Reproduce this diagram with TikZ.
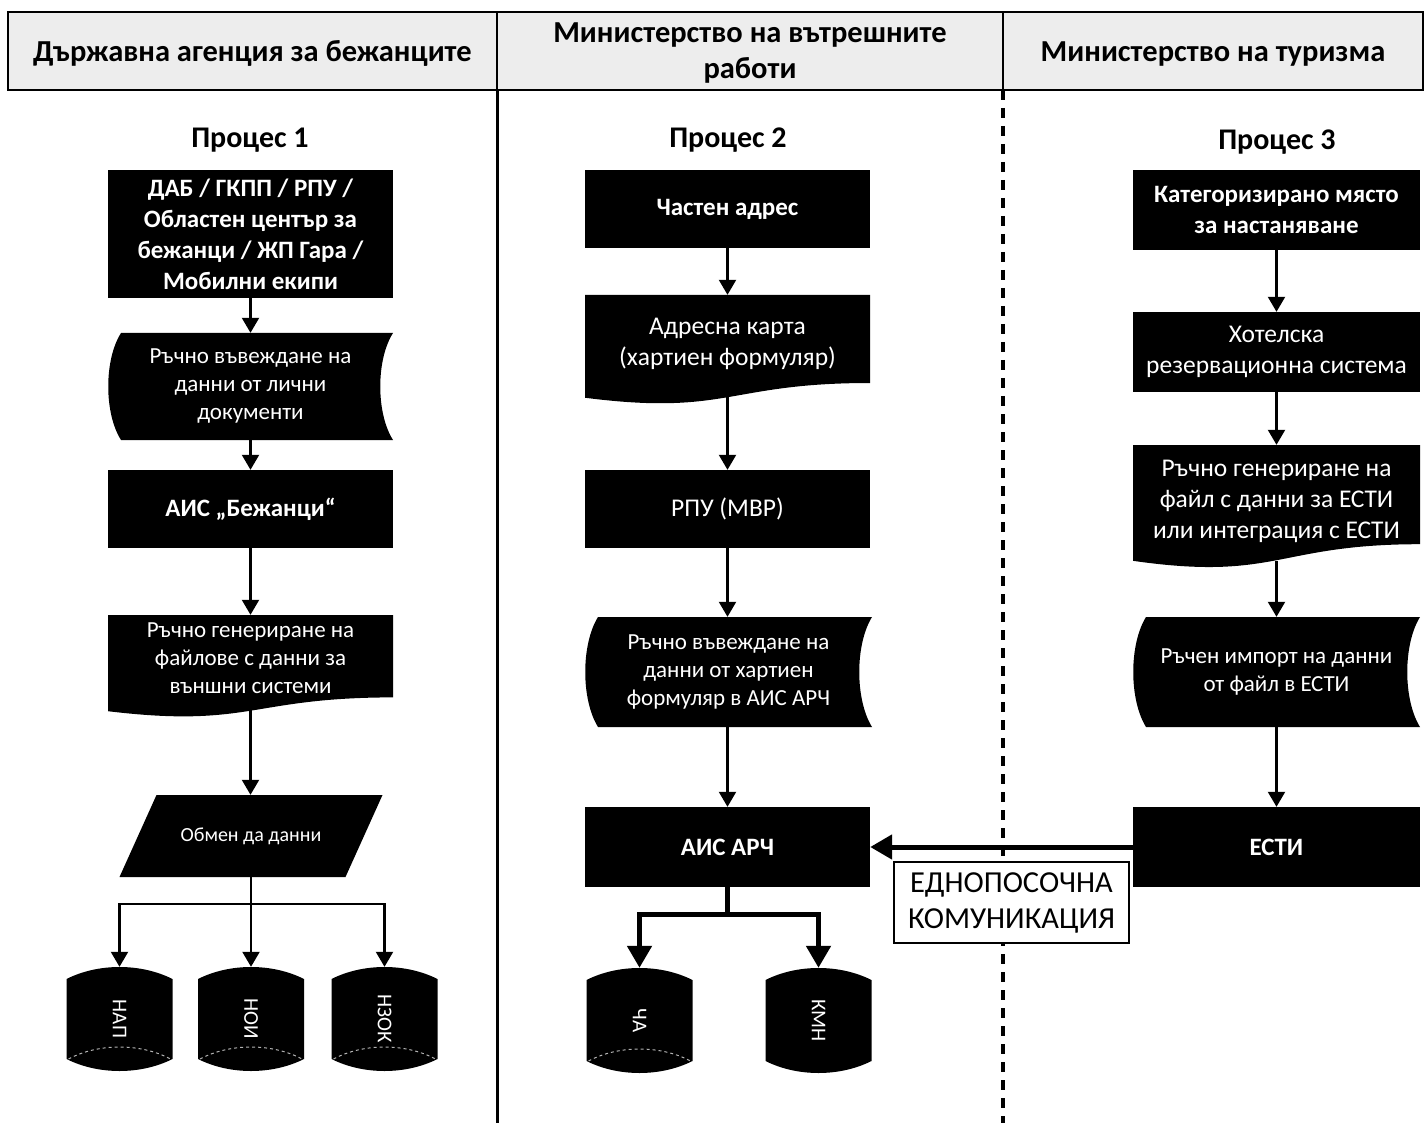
\documentclass[tikz,border=0pt]{standalone}
\usepackage{fontspec}
\usepackage{graphicx}
\setmainfont{Carlito}
\usetikzlibrary{arrows.meta,calc}

\newcommand{\headfont}{\fontsize{30.5}{36}\selectfont\bfseries}
\newcommand{\procfont}{\fontsize{30}{34}\selectfont\bfseries}
\newcommand{\bodyfont}{\fontsize{23}{28}\selectfont}
\newcommand{\widefont}{\fontsize{25.5}{31}\selectfont}
\newcommand{\boldfont}{\fontsize{25}{31}\selectfont\bfseries}
\newcommand{\notefont}{\fontsize{30.5}{36}\selectfont}

\tikzset{
    head/.style = {draw, line width=2pt, fill=black!7},
    headtext/.style = {font=\headfont, align=center},
    proc/.style = {font=\procfont},
    blk/.style = {minimum width=285pt, inner sep=0pt, text=white,
        align=center, font=\bodyfont},
    procbox/.style = {blk, fill=black, minimum height=78pt},
    docbox/.style = {blk, execute at end node={\rule[-16pt]{0pt}{0pt}},
        path picture={\fill [black] let \p1=(path picture bounding box.north west),
            \p2=(path picture bounding box.south east) in
            (\x1,\y1) -- (\x2,\y1) -- (\x2,{\y1+0.80*(\y2-\y1)})
            .. controls ({(\x1+\x2)/2},{\y1+0.80*(\y2-\y1)})
            and ({(\x1+\x2)/2},{\y1+1.10*(\y2-\y1)}) .. (\x1,{\y1+0.934*(\y2-\y1)})
            -- cycle;}},
    manbox/.style = {blk,
        path picture={\fill [black] let \p1=(path picture bounding box.north west),
            \p2=(path picture bounding box.south east) in
            ({\x1+13pt},\y1) -- (\x2,\y1)
            .. controls ({\x2-17pt},{0.75*\y1+0.25*\y2}) and ({\x2-17pt},{0.25*\y1+0.75*\y2}) .. (\x2,\y2)
            -- ({\x1+13pt},\y2)
            .. controls ({\x1-4pt},{0.25*\y1+0.75*\y2}) and ({\x1-4pt},{0.75*\y1+0.25*\y2}) .. cycle;}},
    iobox/.style = {blk, minimum width=263pt, minimum height=82pt,
        font=\fontsize{20}{24}\selectfont,
        path picture={\fill [black] let \p1=(path picture bounding box.north west),
            \p2=(path picture bounding box.south east) in
            ({\x1+37pt},\y1) -- (\x2,\y1) -- ({\x2-37pt},\y2) -- (\x1,\y2) -- cycle;}},
    store/.style = {inner sep=0pt, text=white, minimum width=106pt,
        minimum height=104pt, font=\fontsize{21}{24}\selectfont,
        path picture={\fill [black] let \p1=(path picture bounding box.north west),
            \p2=(path picture bounding box.south east) in
            (\x1,{\y1-12pt})
            .. controls ({\x1+0.3*(\x2-\x1)},{\y1+4pt}) and ({\x2-0.3*(\x2-\x1)},{\y1+4pt}) .. (\x2,{\y1-12pt})
            -- (\x2,{\y2+12pt})
            .. controls ({\x2-0.3*(\x2-\x1)},{\y2-4pt}) and ({\x1+0.3*(\x2-\x1)},{\y2-4pt}) .. (\x1,{\y2+12pt})
            -- cycle;
            \draw [#1, dashed, line width=1pt] let \p1=(path picture bounding box.north west),
            \p2=(path picture bounding box.south east) in
            ({\x1+2pt},{\y2+12pt})
            .. controls ({\x1+0.3*(\x2-\x1)},{\y2+28pt}) and ({\x2-0.3*(\x2-\x1)},{\y2+28pt}) .. ({\x2-2pt},{\y2+12pt});}},
    store/.default = gray!60,
    flow/.style = {line width=2.2pt, -{Triangle[length=15pt, width=17pt]}},
    bigline/.style = {line width=5pt},
    bigflow/.style = {bigline, -{Triangle[length=22pt, width=24pt]}},
    note/.style = {draw, line width=1.3pt, fill=white, minimum width=235pt,
        minimum height=81pt, inner sep=0pt, align=center, font=\notefont}
}

\begin{document}
\begin{tikzpicture}[x=1pt, y=-1pt]
    \useasboundingbox (0,0) rectangle (1425,1123);

    % header
    \draw [head] (8,12) rectangle (497,90)
        node [pos=0.5, headtext, yshift=-2pt] (h1) {Държавна агенция за бежанците};
    \draw [head] (497,12) rectangle (1003,90)
        node [pos=0.5, headtext, yshift=-2pt] (h2) {Министерство на вътрешните\\работи};
    \draw [head] (1003,12) rectangle (1423,90)
        node [pos=0.5, headtext, yshift=-3pt] (h3) {Министерство на туризма};

    % lanes
    \draw [line width=3pt] (497,90) -- (497,1123);
    \draw [line width=4pt, dash pattern=on 10pt off 8pt] (1003,90) -- (1003,1123);

    % Process 1
    \node [proc] (p1) at (250,140) {Процес 1};
    \node [procbox, minimum height=128pt, font=\boldfont] (dab) at (250.5,234)
        {ДАБ / ГКПП / РПУ /\\Областен център за\\бежанци / ЖП Гара /\\Мобилни екипи};
    \node [manbox, minimum height=107pt] (man1) at (250.5,386.5)
        {Ръчно въвеждане на\\данни от лични\\документи};
    \node [procbox, font=\boldfont] (aisb) at (250.5,509) {АИС „Бежанци“};
    \node [docbox, minimum height=103pt] (gen1) at (250.5,666.5)
        {Ръчно генериране на\\файлове с данни за\\външни системи};
    \node [iobox] (xchg) at (251,836) {Обмен да данни};
    \node [store] (nap) at (119.5,1019) {\rotatebox{-90}{НАП}};
    \node [store] (noi) at (251,1019) {\rotatebox{-90}{НОИ}};
    \node [store] (nzok) at (384.5,1019) {\rotatebox{-90}{НЗОК}};

    % Process 2
    \node [proc] (p2) at (728,140) {Процес 2};
    \node [procbox, font=\boldfont] (addr) at (727.5,209) {Частен адрес};
    \node [docbox, minimum height=110pt, font=\widefont] (card) at (727.5,350)
        {Адресна карта\\(хартиен формуляр)};
    \node [procbox, font=\widefont] (rpu) at (727.5,509) {РПУ (МВР)};
    \node [manbox, minimum height=110pt, minimum width=287pt] (man2) at (728.5,672)
        {Ръчно въвеждане на\\данни от хартиен\\формуляр в АИС АРЧ};
    \node [procbox, minimum height=80pt, font=\boldfont] (arc) at (727.5,847) {АИС АРЧ};
    \node [store, minimum height=105pt] (cha) at (639.5,1020.5) {\rotatebox{-90}{ЧА}};
    \node [store=draw=none, minimum height=105pt] (kmn) at (818.5,1020.5) {\rotatebox{-90}{КМН}};

    % Process 3
    \node [proc] (p3) at (1277,142) {Процес 3};
    \node [procbox, minimum width=287pt, minimum height=80pt, font=\boldfont] (cat) at (1276.5,210)
        {Категоризирано място\\за настаняване};
    \node [procbox, minimum width=287pt, minimum height=80pt, font=\widefont] (hotel) at (1276.5,352)
        {Хотелска\\резервационна система};
    \node [docbox, minimum width=287pt, minimum height=124pt, font=\widefont] (gen3) at (1276.5,507)
        {Ръчно генериране на\\файл с данни за ЕСТИ\\или интеграция с ЕСТИ};
    \node [manbox, minimum width=287pt, minimum height=110pt] (man3) at (1276.5,672)
        {Ръчен импорт на данни\\от файл в ЕСТИ};
    \node [procbox, minimum width=287pt, minimum height=80pt, font=\boldfont] (esti) at (1276.5,847) {ЕСТИ};

    % arrows
    \draw [flow] (dab) -- (man1);
    \draw [flow] (man1) -- (aisb);
    \draw [flow] (aisb) -- (gen1);
    \draw [flow, shorten <=-8pt] (gen1.south) -- (xchg.north -| gen1.south);
    \coordinate (fork1) at ([yshift=-27pt]xchg.south);
    \draw [line width=2.2pt] (xchg.south) -- (fork1);
    \draw [flow] (fork1) -| (nap);
    \draw [flow] (fork1) -- (noi);
    \draw [flow] (fork1) -| (nzok);

    \draw [flow] (addr) -- (card);
    \draw [flow, shorten <=-8pt] (card.south) -- (rpu);
    \draw [flow] (rpu) -- (man2.north -| rpu.south);
    \draw [flow] (man2.south -| arc.north) -- (arc);
    \coordinate (fork2) at ([yshift=-27pt]arc.south);
    \draw [bigline] (arc) -- (fork2);
    \draw [bigflow] (fork2) -| (cha);
    \draw [bigflow] (fork2) -| (kmn);

    \draw [flow] (cat) -- (hotel);
    \draw [flow] (hotel) -- (gen3);
    \draw [flow, shorten <=-8pt] (gen3.south) -- (man3);
    \draw [flow] (man3) -- (esti);
    \draw [bigflow] (esti) -- (arc);

    \node [note] (oneway) at (1011.5,902.5) {ЕДНОПОСОЧНА\\КОМУНИКАЦИЯ};
\end{tikzpicture}
\end{document}
